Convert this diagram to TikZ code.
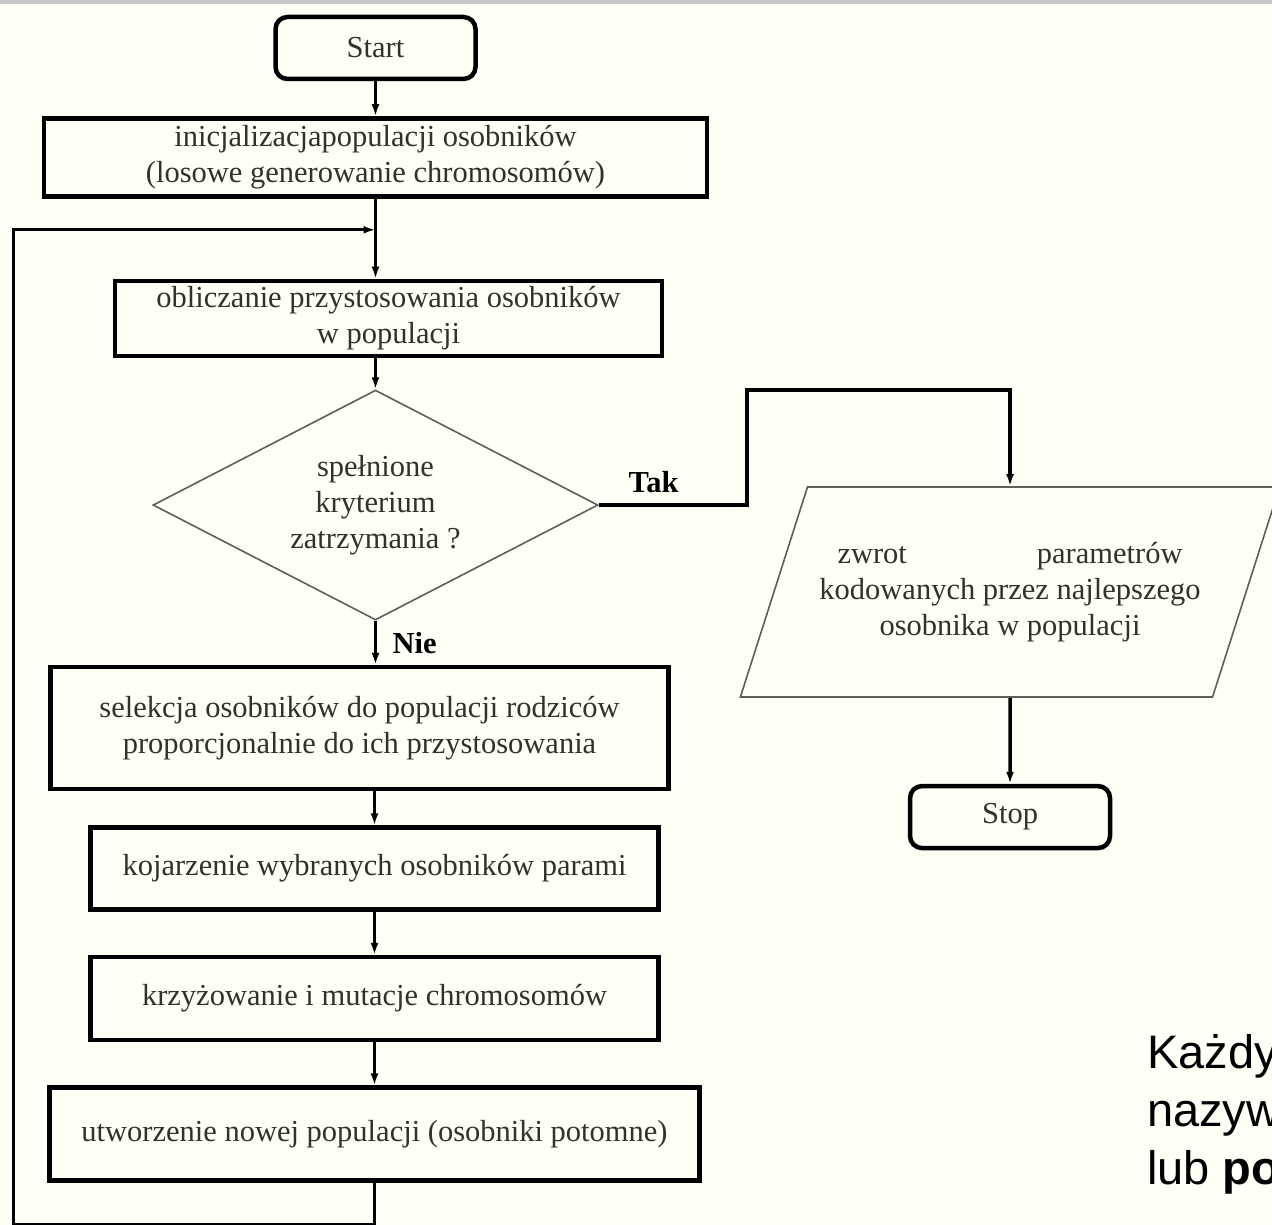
\documentclass[tikz,border=0pt]{standalone}
\usepackage{fontspec}
\setmainfont{Liberation Serif}
\newfontfamily\slidefont{Liberation Sans}
\usepackage{xcolor}
\usepackage{tikz}
\usetikzlibrary{arrows.meta,positioning,calc,shapes.geometric}
\definecolor{paper}{RGB}{255,255,246}
\definecolor{ink}{RGB}{50,50,45}
\definecolor{edge}{RGB}{95,95,85}

\begin{document}
\begin{tikzpicture}[x=1pt,y=1pt,>={Latex[length=12pt,width=8pt]},
  font=\fontsize{30.5}{36}\selectfont,
  b/.style={draw,line width=4.5pt,align=center,text=ink,inner sep=0pt},
  term/.style={b,rounded corners=12pt,minimum width=200pt,minimum height=62pt},
  dec/.style={diamond,aspect=1.93,draw=edge,line width=1.6pt,align=center,text=ink,
    minimum width=445pt,minimum height=230pt,inner sep=0pt},
  io/.style={trapezium,trapezium left angle=71.6,trapezium right angle=108.4,
    trapezium stretches=true,draw=edge,line width=1.6pt,align=center,text=ink,
    minimum width=540pt,minimum height=210pt,inner xsep=0pt,inner ysep=45pt},
  lab/.style={font=\fontsize{30.5}{36}\selectfont\bfseries},
  slide/.style={font=\slidefont\fontsize{47}{58}\selectfont,inner sep=0pt},
  link/.style={->,line width=3.5pt}]
\fill[paper] (0,0) rectangle (1272,-1225);
\fill[black!22] (0,0) rectangle (1272,-4);
\useasboundingbox (0,0) rectangle (1272,-1225);
\node[term] (start) at (375.5,-48) {Start};
\node[b,minimum width=663pt,minimum height=78pt,below=35pt of start] (init) {inicjalizacjapopulacji osobników\\(losowe generowanie chromosomów)};
\coordinate[below=31pt of init] (merge);
\node[b,minimum width=547pt,minimum height=75pt,below=80pt of init,xshift=13pt] (eval) {obliczanie przystosowania osobników\\w populacji};
\node[dec,below=31pt of eval,xshift=-13pt] (crit) {spełnione\\kryterium\\zatrzymania ?};
\node[b,minimum width=618pt,minimum height=122pt,below=44pt of crit,xshift=-16pt] (sel) {selekcja osobników do populacji rodziców\\proporcjonalnie do ich przystosowania};
\node[b,minimum width=568pt,minimum height=82pt,below=34pt of sel,xshift=15pt] (pair) {kojarzenie wybranych osobników parami};
\node[b,minimum width=568pt,minimum height=83pt,below=43pt of pair] (cross) {krzyżowanie i mutacje chromosomów};
\node[b,minimum width=650pt,minimum height=93pt,below=43pt of cross] (newpop) {utworzenie nowej populacji (osobniki potomne)};
\node[io] (result) at (1010,-592) {\makebox[345pt]{zwrot\hfill parametrów}\\kodowanych przez najlepszego\\osobnika w populacji};
\node[term,below=86pt of result] (stop) {Stop};
\node[slide,anchor=base west] (note1) at (1147,-1068) {Każdy};
\node[slide,anchor=base west] (note2) at (1147,-1126) {nazyw};
\node[slide,anchor=base west] (note3) at (1147,-1184) {lub \textbf{po}};
\draw[link] (start) -- (init);
\draw[link] (init) -- (init.south |- eval.north);
\draw[link] (crit.north |- eval.south) -- (crit);
\draw[link] (crit) -- node[lab,right=12pt] {Nie} (crit.south |- sel.north);
\draw[link] (pair.north |- sel.south) -- (pair);
\draw[link] (pair) -- (cross);
\draw[link] (cross) -- (newpop);
\draw[link] (newpop.south) -- ++(0,-42pt) -| ([xshift=-362pt]merge) -- (merge);
\draw[link] (crit.east) -- node[lab,above=7pt,pos=0.37] {Tak} ++(148pt,0) -- ++(0,115pt) -| (result.north);
\draw[link] (result) -- (stop);
\end{tikzpicture}
\end{document}
